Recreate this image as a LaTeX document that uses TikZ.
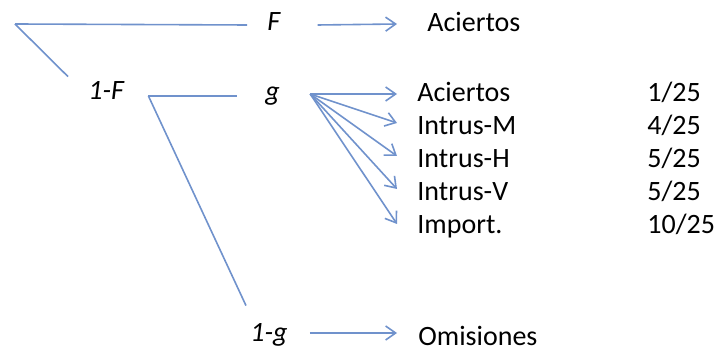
\documentclass[tikz,border=0pt]{standalone}
\usepackage{fontspec}
\setmainfont{Carlito}
\usetikzlibrary{arrows.meta}
\definecolor{treeblue}{RGB}{112,146,204}

\begin{document}
\begin{tikzpicture}[
    x=0.5pt,y=-0.5pt,
    branch/.style={draw=treeblue, line width=0.8pt},
    flow/.style={draw=treeblue, line width=0.8pt, -{Straight Barb[length=5pt,width=7pt]}},
    prob/.style={inner sep=0pt, anchor=base west, text height=7pt, text depth=0pt, font=\fontsize{14pt}{17pt}\selectfont\itshape},
    outcome/.style={inner sep=0pt, anchor=west, text height=12pt, text depth=0pt, font=\fontsize{14pt}{17pt}\selectfont}
]
    \useasboundingbox (0,0) rectangle (715,351);

    % ================= PROBABILITIES =================
    \coordinate (root) at (15,24);
    \node[prob] (F) at (267,31) {F};
    \node[prob] (oneF) at (88,100) {1-F};
    \node[prob] (g) at (265,101) {g};
    \node[prob] (oneg) at (250,342) {1-g};

    \coordinate (rootleg) at ([xshift=-10pt,yshift=4.5pt]oneF.north west);
    \coordinate (split) at ([xshift=12pt,yshift=-1.5pt]oneF.east);
    \coordinate (gout) at ([xshift=15pt]g.east);

    % ================= OUTCOMES =================
    \node[outcome] (accF) at (427,20) {Aciertos};
    \node[outcome] (accg) at (417,90) {Aciertos};
    \node[outcome] (intM) at (417,123) {Intrus-M};
    \node[outcome] (intH) at (417,156) {Intrus-H};
    \node[outcome] (intV) at (417,189) {Intrus-V};
    \node[outcome] (imp) at (417,222) {Import.};
    \node[outcome] (omis) at (418,333) {Omisiones};

    \node[outcome] (r_acc) at (647,90) {1/25};
    \node[outcome] (r_intM) at (647,123) {4/25};
    \node[outcome] (r_intH) at (647,156) {5/25};
    \node[outcome] (r_intV) at (647,189) {5/25};
    \node[outcome] (r_imp) at (647,222) {10/25};

    % ================= BRANCHES =================
    \draw[branch] (root) -- ([xshift=-10pt,yshift=-0.5pt]F.west);
    \draw[branch] (root) -- (rootleg);
    \draw[branch] (split) -- ([xshift=-14pt,yshift=-1pt]g.west);
    \draw[branch] (split) -- ([xshift=-2pt,yshift=11pt]oneg.north west);

    % ================= ARROWS =================
    \draw[flow] ([xshift=18.5pt,yshift=-0.5pt]F.east) -- ([xshift=-15pt,yshift=-2pt]accF.west);
    \draw[flow] (gout) -- ([xshift=-10pt,yshift=-2pt]accg.west);
    \draw[flow] (gout) -- ([xshift=-10pt]intM.west);
    \draw[flow] (gout) -- ([xshift=-10pt]intH.west);
    \draw[flow] (gout) -- ([xshift=-10pt]intV.west);
    \draw[flow] (gout) -- ([xshift=-10pt,yshift=-1pt]imp.west);
    \draw[flow] ([xshift=11pt,yshift=1pt]oneg.east) -- ([xshift=-10.5pt]omis.west);

\end{tikzpicture}
\end{document}
